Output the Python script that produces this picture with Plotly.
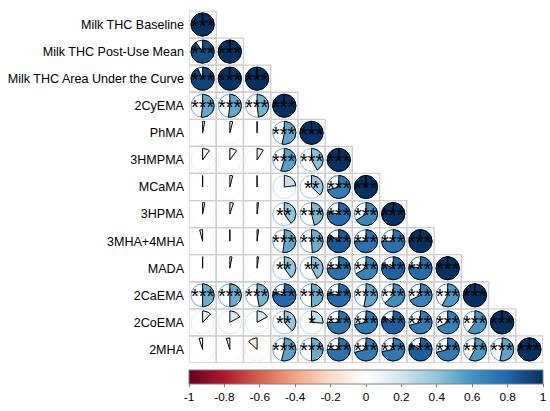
import numpy as np
import plotly.graph_objects as go

labels = ["Milk THC Baseline", "Milk THC Post-Use Mean", "Milk THC Area Under the Curve",
          "2CyEMA", "PhMA", "3HMPMA", "MCaMA", "3HPMA", "3MHA+4MHA", "MADA",
          "2CaEMA", "2CoEMA", "2MHA"]

# lower-triangle correlation values (row i, col j<=i)
corr = [
    [1.00],
    [0.90, 1.00],
    [0.93, 0.99, 1.00],
    [0.52, 0.52, 0.48, 1.00],
    [0.03, 0.04, 0.01, 0.53, 1.00],
    [0.10, 0.10, 0.09, 0.55, 0.42, 1.00],
    [0.00, 0.04, 0.01, 0.23, 0.37, 0.71, 1.00],
    [0.03, 0.05, 0.02, 0.40, 0.46, 0.78, 0.66, 1.00],
    [-0.04, 0.01, 0.02, 0.52, 0.49, 0.85, 0.75, 0.75, 1.00],
    [0.01, 0.03, 0.02, 0.40, 0.42, 0.75, 0.67, 0.82, 0.78, 1.00],
    [0.50, 0.50, 0.47, 0.79, 0.50, 0.78, 0.53, 0.63, 0.68, 0.58, 1.00],
    [0.12, 0.17, 0.17, 0.38, 0.26, 0.75, 0.72, 0.83, 0.71, 0.68, 0.60, 1.00],
    [-0.05, -0.05, -0.13, 0.54, 0.50, 0.75, 0.71, 0.72, 0.83, 0.71, 0.58, 0.53, 1.00],
]

stars = [
    ["***"],
    ["***", "***"],
    ["***", "***", "***"],
    ["***", "***", "***", "***"],
    ["", "", "", "***", "***"],
    ["", "", "", "***", "***", "***"],
    ["", "", "", "", "**", "***", "***"],
    ["", "", "", "**", "***", "***", "***", "***"],
    ["", "", "", "***", "***", "***", "***", "***", "***"],
    ["", "", "", "**", "**", "***", "***", "***", "***", "***"],
    ["***"] * 11,
    ["", "", "", "**", "*"] + ["***"] * 7,
    ["", "", "", "***", "***"] + ["***"] * 8,
]

cbar_vals = [-1, -0.8, -0.6, -0.4, -0.2, 0, 0.2, 0.4, 0.6, 0.8, 1]
cbar_text = ["-1", "-0.8", "-0.6", "-0.4", "-0.2", "0", "0.2", "0.4", "0.6", "0.8", "1"]

palette = ["#67001F", "#B2182B", "#D6604D", "#F4A582", "#FDDBC7", "#FFFFFF",
           "#D1E5F0", "#92C5DE", "#4393C3", "#2166AC", "#053061"]
colorscale = [[k / (len(palette) - 1), c] for k, c in enumerate(palette)]


def hex2rgb(h):
    h = h.lstrip("#")
    return np.array([int(h[i:i + 2], 16) for i in (0, 2, 4)], dtype=float)


pal_rgb = [hex2rgb(c) for c in palette]


def color_of(v):
    t = (v + 1) / 2 * (len(palette) - 1)
    i = int(np.floor(t))
    i = min(max(i, 0), len(palette) - 2)
    f = t - i
    c = pal_rgb[i] * (1 - f) + pal_rgb[i + 1] * f
    return "rgb(%d,%d,%d)" % tuple(np.round(c))


n = len(labels)
R = 0.425
fig = go.Figure()
shapes = []
annotations = []

for i in range(n):
    for j in range(i + 1):
        v = corr[i][j]
        cx, cy = j + 1, i + 1
        col = color_of(v)
        shapes.append(dict(type="rect", xref="x", yref="y",
                           x0=cx - 0.5, x1=cx + 0.5, y0=cy - 0.5, y1=cy + 0.5,
                           line=dict(color="#cfcfcf", width=1.3), layer="below"))
        shapes.append(dict(type="circle", xref="x", yref="y",
                           x0=cx - R, x1=cx + R, y0=cy - R, y1=cy + R,
                           line=dict(color=col, width=1), layer="below"))
        theta = v * 2 * np.pi
        npts = max(2, int(60 * abs(v)) + 2)
        k = np.linspace(np.pi / 2, np.pi / 2 - theta, npts)
        xs = np.concatenate([[cx], cx + R * np.cos(k), [cx]])
        ys = np.concatenate([[cy], cy - R * np.sin(k), [cy]])
        fig.add_trace(go.Scatter(x=xs, y=ys, mode="lines", fill="toself",
                                 fillcolor=col, line=dict(color="black", width=1),
                                 hoverinfo="skip", showlegend=False))
        s = stars[i][j]
        if s:
            annotations.append(dict(x=cx, y=cy, xref="x", yref="y", text=s,
                                    showarrow=False, yshift=-1,
                                    font=dict(size=20, color="black",
                                              family="Liberation Sans, Arial")))

fig.add_trace(go.Scatter(
    x=[1], y=[1], mode="markers", hoverinfo="skip", showlegend=False,
    marker=dict(size=1, opacity=0, color=[0], cmin=-1, cmax=1,
                colorscale=colorscale, showscale=True,
                colorbar=dict(orientation="h", x=0.5, xanchor="center",
                              y=-0.02, yanchor="top", len=354, lenmode="pixels",
                              thickness=14, xpad=0, ypad=0,
                              outlinecolor="#7f7f7f", outlinewidth=1,
                              tickvals=cbar_vals, ticktext=cbar_text,
                              ticks="outside", ticklen=3, tickcolor="#7f7f7f",
                              tickfont=dict(size=11.8, color="black",
                                            family="Liberation Sans, Arial")))))

fig.update_layout(
    width=550, height=411,
    margin=dict(l=189, r=7, t=11, b=48, autoexpand=False),
    plot_bgcolor="white", paper_bgcolor="white",
    shapes=shapes, annotations=annotations,
    xaxis=dict(range=[0.5, n + 0.5], showgrid=False, zeroline=False,
               showticklabels=False, ticks="", fixedrange=True),
    yaxis=dict(range=[n + 0.5, 0.5], showgrid=False, zeroline=False,
               tickvals=list(range(1, n + 1)), ticktext=labels, ticks="",
               ticklabelstandoff=4, automargin=False,
               tickfont=dict(size=12.55, color="black", family="Liberation Sans, Arial"),
               fixedrange=True),
)

fig.write_html("out.html", config={"displayModeBar": False},
               post_script="document.body.style.margin='0px';")
